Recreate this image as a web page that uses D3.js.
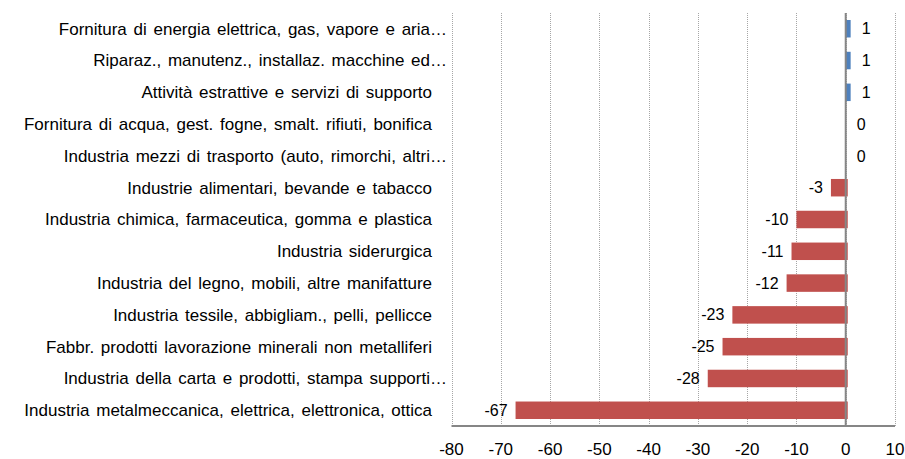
<!DOCTYPE html>
<meta charset="utf-8">
<script src="https://cdn.jsdelivr.net/npm/d3@7"></script>
<style>
body { margin: 0; background: #fff; }
svg text { font-family: "Liberation Sans", Arial, sans-serif; fill: #000; }
</style>
<body>
<script>

var categories = [
  "Fornitura di energia elettrica, gas, vapore e aria…",
  "Riparaz., manutenz., installaz. macchine ed…",
  "Attività estrattive e servizi di supporto",
  "Fornitura di acqua, gest. fogne, smalt. rifiuti, bonifica",
  "Industria mezzi di trasporto (auto, rimorchi, altri…",
  "Industrie alimentari, bevande e tabacco",
  "Industria chimica, farmaceutica, gomma e plastica",
  "Industria siderurgica",
  "Industria del legno, mobili, altre manifatture",
  "Industria tessile, abbigliam., pelli, pellicce",
  "Fabbr. prodotti lavorazione minerali non metalliferi",
  "Industria della carta e prodotti, stampa supporti…",
  "Industria metalmeccanica, elettrica, elettronica, ottica"
]
var values = [1, 1, 1, 0, 0, -3, -10, -11, -12, -23, -25, -28, -67]
var xTicks = [-80, -70, -60, -50, -40, -30, -20, -10, 0, 10]

var width = 905
var height = 459
var plotLeft = 451.5, plotRight = 895, plotTop = 13, plotBottom = 426

var svg = d3.select("body").append("svg")
            .attr("width", width)
            .attr("height", height)

var x = d3.scaleLinear().domain([-80, 10]).range([plotLeft, plotRight])
var y = d3.scaleBand().domain(categories).range([plotTop, plotBottom]).paddingInner(0.45).paddingOuter(0.22)

// dotted gridlines
svg.append("g").selectAll("line")
   .data(xTicks)
   .enter().append("line")
   .attr("x1", d => Math.round(x(d)) + 0.5)
   .attr("x2", d => Math.round(x(d)) + 0.5)
   .attr("y1", plotTop)
   .attr("y2", plotBottom)
   .style("stroke", "#a6a6a6")
   .style("stroke-width", 1)
   .style("stroke-dasharray", "1,1")

// bars
svg.append("g").selectAll("rect")
   .data(values)
   .enter().append("rect")
   .attr("x", d => x(Math.min(0, d)))
   .attr("y", (d, i) => y(categories[i]))
   .attr("width", d => Math.abs(x(d) - x(0)) + (d < 0 ? 2 : 0))
   .attr("height", y.bandwidth())
   .style("fill", d => d > 0 ? "#4f81bd" : "#c0504d")

// zero line
svg.append("line")
   .attr("x1", x(0))
   .attr("x2", x(0))
   .attr("y1", plotTop)
   .attr("y2", plotBottom)
   .style("stroke", "#868686")
   .style("stroke-width", 2)

// bottom axis line
svg.append("line")
   .attr("x1", plotLeft)
   .attr("x2", plotRight)
   .attr("y1", plotBottom)
   .attr("y2", plotBottom)
   .style("stroke", "#868686")
   .style("stroke-width", 2)

// tick labels
svg.append("g").selectAll("text")
   .data(xTicks)
   .enter().append("text")
   .attr("x", d => x(d))
   .attr("y", plotBottom + 29)
   .style("text-anchor", "middle")
   .style("font-size", "17px")
   .text(d => d)

// category labels
svg.append("g").selectAll("text")
   .data(categories)
   .enter().append("text")
   .attr("x", d => d.endsWith("…") ? 447 : 432)
   .attr("y", d => y(d) + y.bandwidth() / 2)
   .attr("dy", "0.35em")
   .style("text-anchor", "end")
   .style("font-size", "17px")
   .style("word-spacing", "2px")
   .text(d => d)

// value labels
svg.append("g").selectAll("text")
   .data(values)
   .enter().append("text")
   .attr("x", d => d < 0 ? x(d) - 8 : x(d) + 11)
   .attr("y", (d, i) => y(categories[i]) + y.bandwidth() / 2)
   .attr("dy", "0.35em")
   .style("text-anchor", d => d < 0 ? "end" : "start")
   .style("font-size", "16px")
   .text(d => d)

</script>
</body>
